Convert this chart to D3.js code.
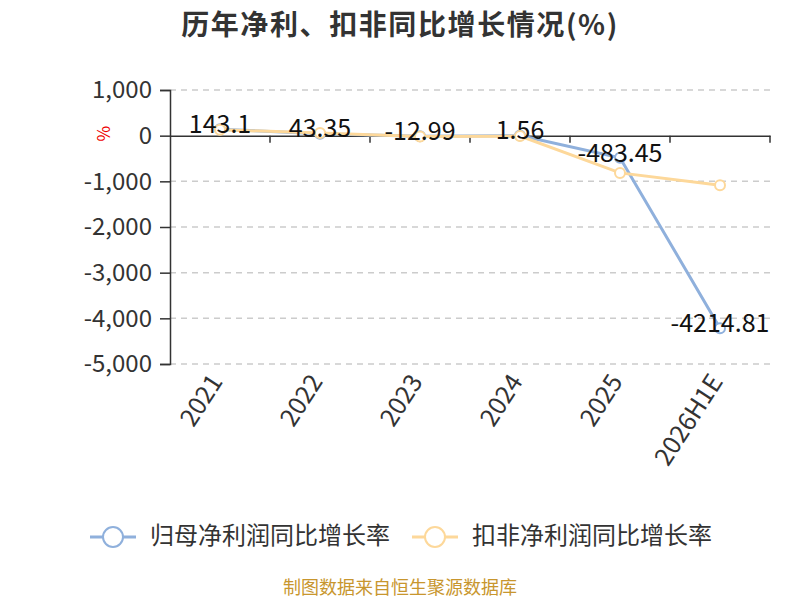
<!DOCTYPE html>
<html><head><meta charset="utf-8">
<script src="https://cdn.jsdelivr.net/npm/d3@7"></script>
<style>body{margin:0;background:#fff}svg{display:block}</style>
</head><body><svg id="c" width="800" height="600"></svg>
<script>
const categories = ["2021","2022","2023","2024","2025","2026H1E"];
const netProfitGrowth = [143.1, 43.35, -12.99, 1.56, -483.45, -4214.81];
const deductedGrowth = [130, 60, -20, -10, -815, -1087];
const yTicks = [1000, 0, -1000, -2000, -3000, -4000, -5000];
const seriesNames = ["归母净利润同比增长率", "扣非净利润同比增长率"];
const colors = ["#8fb0dc", "#fdd89a"];

const svg = d3.select("#c");
const font = "'Noto Sans CJK SC', 'Noto Sans', sans-serif";
const mLeft = 170, mRight = 770, mTop = 90, mBottom = 364;
const x = d3.scaleBand().domain(categories).range([mLeft, mRight]);
const y = d3.scaleLinear().domain([-5000, 1000]).range([mBottom, mTop]);

svg.append("text").attr("x", 400).attr("y", 35).attr("text-anchor", "middle")
  .attr("font-family", font).attr("font-size", 28).attr("font-weight", "bold").attr("fill", "#333")
  .attr("letter-spacing", 1.6)
  .text("历年净利、扣非同比增长情况(%)");

// grid
svg.append("g").selectAll("line").data(yTicks.filter(d => d !== 0)).join("line")
  .attr("x1", mLeft).attr("x2", mRight).attr("y1", d => y(d)).attr("y2", d => y(d))
  .attr("stroke", "#ccc").attr("stroke-width", 1.5).attr("stroke-dasharray", "6,5");

// y axis
const fmt = d3.format(",");
const yAxis = svg.append("g").attr("transform", `translate(${mLeft},0)`)
  .call(d3.axisLeft(y).tickValues(yTicks).tickSize(10).tickPadding(8).tickFormat(d => fmt(d).replace("\u2212", "-")));
yAxis.select(".domain").attr("stroke", "#333").attr("stroke-width", 1.5);
yAxis.selectAll(".tick line").attr("stroke", "#333").attr("stroke-width", 1.5);
yAxis.selectAll("text").attr("font-family", font).attr("font-size", 24).attr("fill", "#333");

svg.append("text").attr("transform", `translate(105,${y(0) - 2}) rotate(-90)`)
  .attr("text-anchor", "middle").attr("dominant-baseline", "middle")
  .attr("font-family", font).attr("font-size", 17).attr("fill", "#e00").text("%");

// x axis at zero
const xAxis = svg.append("g").attr("transform", `translate(0,${y(0)})`)
  .call(d3.axisBottom(x).tickSize(0).tickFormat(""));
xAxis.select(".domain").attr("stroke", "#333").attr("stroke-width", 1.5);
svg.append("g").selectAll("line").data(categories.map((c, i) => i)).join("line")
  .attr("x1", i => x(categories[i]) + x.bandwidth()).attr("x2", i => x(categories[i]) + x.bandwidth())
  .attr("y1", y(0)).attr("y2", y(0) + 7).attr("stroke", "#333").attr("stroke-width", 1.5);

// x labels
svg.append("g").selectAll("text").data(categories).join("text")
  .attr("transform", d => `translate(${x(d) + x.bandwidth() / 2 - 2},${mBottom + 14}) rotate(-57)`)
  .attr("text-anchor", "end").attr("dominant-baseline", "middle")
  .attr("font-family", font).attr("font-size", 25).attr("fill", "#333").text(d => d);

const line = d3.line().x((d, i) => x(categories[i]) + x.bandwidth() / 2).y(d => y(d));
[netProfitGrowth, deductedGrowth].forEach((data, s) => {
  svg.append("path").datum(data).attr("d", line).attr("fill", "none")
    .attr("stroke", colors[s]).attr("stroke-width", 3);
  svg.append("g").selectAll("circle").data(data).join("circle")
    .attr("cx", (d, i) => x(categories[i]) + x.bandwidth() / 2).attr("cy", d => y(d))
    .attr("r", 5).attr("fill", "#fff").attr("stroke", colors[s]).attr("stroke-width", 2);
});

// labels
svg.append("g").selectAll("text").data(netProfitGrowth).join("text")
  .attr("x", (d, i) => x(categories[i]) + x.bandwidth() / 2).attr("y", d => y(d) - 3)
  .attr("text-anchor", "middle").attr("dominant-baseline", "middle")
  .attr("font-family", font).attr("font-size", 25).attr("fill", "#111").text(d => d);

// legend
const legX = [90, 412];
seriesNames.forEach((n, s) => {
  const g = svg.append("g").attr("transform", `translate(${legX[s]},537)`);
  g.append("line").attr("x1", 0).attr("x2", 46).attr("stroke", colors[s]).attr("stroke-width", 3);
  g.append("circle").attr("cx", 23).attr("r", 10).attr("fill", "#fff").attr("stroke", colors[s]).attr("stroke-width", 2);
  g.append("text").attr("x", 60).attr("dominant-baseline", "middle")
    .attr("font-family", font).attr("font-size", 24).attr("fill", "#333").text(n);
});

svg.append("text").attr("x", 400).attr("y", 589).attr("text-anchor", "middle").attr("dominant-baseline", "middle")
  .attr("font-family", font).attr("font-size", 18).attr("fill", "#c8962e").text("制图数据来自恒生聚源数据库");
</script></body></html>
